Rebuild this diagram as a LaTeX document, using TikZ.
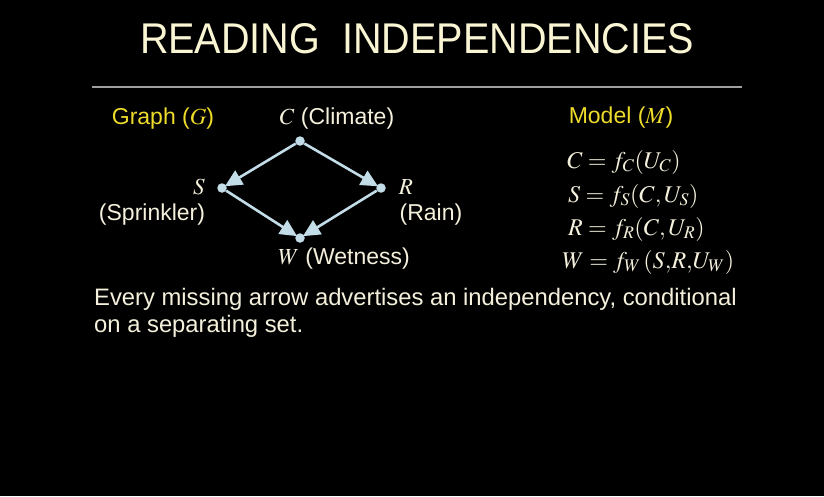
\documentclass[tikz,border=0pt]{standalone}
\usepackage{mathptmx}
\usepackage[no-math]{fontspec}
\setmainfont{Liberation Sans}
\newfontfamily\titlefont[FakeStretch=0.92]{Liberation Sans}
\usepackage{xcolor}
\usetikzlibrary{
    arrows.meta,
    positioning,
    calc
}

\definecolor{slidebg}{HTML}{000000}
\definecolor{titlecream}{HTML}{FAF5D2}
\definecolor{bodycream}{HTML}{F4F0DC}
\definecolor{lblyellow}{HTML}{EEDC2A}
\definecolor{edgeblue}{HTML}{C2DCE8}

\begin{document}
\begin{tikzpicture}[
  x=1pt, y=-1pt,
  title/.style={font=\titlefont\fontsize{43}{46}\selectfont,
    text=titlecream, inner sep=0pt},
  heading/.style={font=\fontsize{23}{26}\selectfont,
    text=lblyellow, inner sep=0pt},
  vlbl/.style={font=\fontsize{23}{26}\selectfont,
    text=bodycream, inner sep=0pt},
  dot/.style={circle, fill=edgeblue, inner sep=0pt, minimum size=9.5pt},
  edge/.style={-{Triangle[length=17pt, width=16pt]}, line width=2.6pt,
    draw=edgeblue, shorten >=-1.5pt},
  eqn/.style={font=\fontsize{24}{26}\selectfont,
    text=bodycream, inner sep=0pt, anchor=west},
  body/.style={font=\fontsize{23.8}{27.5}\selectfont,
    text=bodycream, inner sep=0pt, anchor=north west, align=left}
]

%% ── Background ───────────────────────────────────────────────────────────────
\fill[slidebg] (0,0) rectangle (824,496);
\useasboundingbox (0,0) rectangle (824,496);

%% ── Title ────────────────────────────────────────────────────────────────────
\node[title] (ttl) at (417,39) {READING\ \ INDEPENDENCIES};
\coordinate (rule_l) at (92,87);
\coordinate (rule_r) at (742,87);
\draw[gray!75, line width=1.2pt] (rule_l) -- (rule_r);

%% ── Graph ────────────────────────────────────────────────────────────────────
\node[heading] (graph_hd) at (163,119) {Graph (\(G\))};

\node[dot] (C) at (300,141) {};
\node[dot] (S) at (222,188) {};
\node[dot] (R) at (381,188) {};
\node[dot] (W) at (300,238) {};

\draw[edge] (C) -- (S);
\draw[edge] (C) -- (R);
\draw[edge] (S) -- (W);
\draw[edge] (R) -- (W);

\node[vlbl] (C_lbl) at (337,119) {\(C\) (Climate)};
\node[vlbl] (S_lbl) at (199,187) {\(S\)};
\node[vlbl] (S_txt) at (152,215) {(Sprinkler)};
\node[vlbl] (R_lbl) at (406,187) {\(R\)};
\node[vlbl] (R_txt) at (431,215) {(Rain)};
\node[vlbl] (W_lbl) at (344,259) {\(W\) (Wetness)};

%% ── Model ────────────────────────────────────────────────────────────────────
\node[heading] (model_hd) at (621,118) {Model (\(M\))};

\node[eqn] (eq_c) at (567,162) {\(C = f_C(U_C)\)};
\node[eqn] (eq_s) at (568,196) {\(S = f_S(C,U_S)\)};
\node[eqn] (eq_r) at (568,229) {\(R = f_R(C,U_R)\)};
\node[eqn] (eq_w) at (562,262) {\(W = f_W\,(S,\!R,\!U_W)\)};

%% ── Caption ──────────────────────────────────────────────────────────────────
\node[body] (note) at (94,288)
    {Every missing arrow advertises an independency, conditional\\
     on a separating set.};

\end{tikzpicture}
\end{document}
